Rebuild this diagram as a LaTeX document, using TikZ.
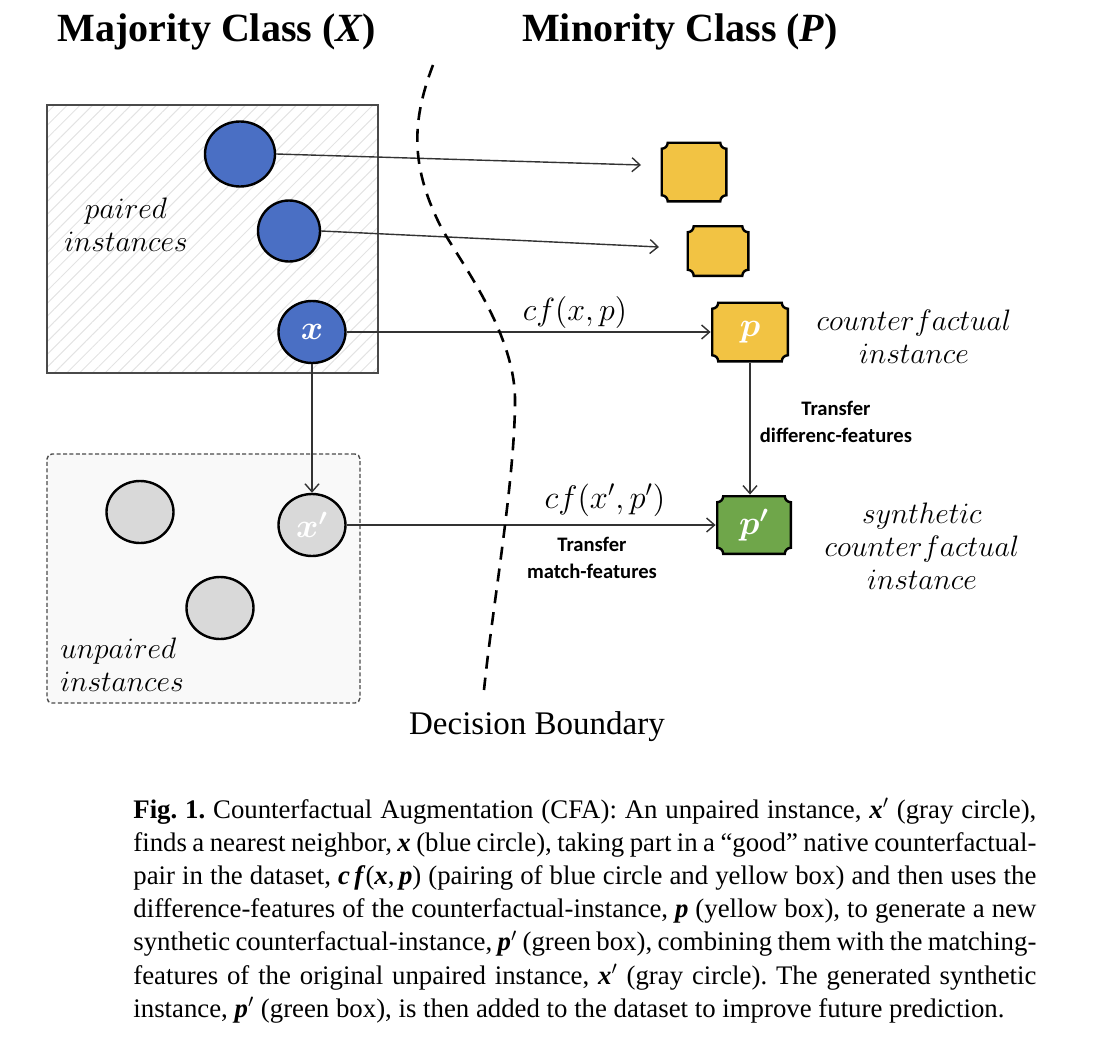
\RequirePackage{fix-cm}
\documentclass[tikz,border=0pt]{standalone}
\usepackage{amsmath}
\usepackage{fontspec}
\setmainfont{Liberation Serif}
\newfontfamily\calib{Carlito}
\usetikzlibrary{arrows.meta,patterns.meta,shapes.geometric,calc}
\definecolor{blueC}{HTML}{4A6FC4}
\definecolor{yellowC}{HTML}{F2C343}
\definecolor{greenC}{HTML}{6FA64A}
\definecolor{grayC}{HTML}{D9D9D9}
\definecolor{lineC}{HTML}{333333}
\definecolor{boxC}{HTML}{4A4A4A}
\newlength\plq \setlength\plq{3pt}
\newlength\hlw \setlength\hlw{0.6pt}
\tikzset{
  plaque/.style={rectangle, inner sep=0pt, path picture={
    \draw[line width=1.2pt, fill=#1]
      ([xshift=\plq+\hlw, yshift=\hlw]path picture bounding box.south west)
      -- ([xshift=-\plq-\hlw, yshift=\hlw]path picture bounding box.south east)
      arc[start angle=180, end angle=90, radius=\plq]
      -- ([xshift=-\hlw, yshift=-\plq-\hlw]path picture bounding box.north east)
      arc[start angle=270, end angle=180, radius=\plq]
      -- ([xshift=\plq+\hlw, yshift=-\hlw]path picture bounding box.north west)
      arc[start angle=0, end angle=-90, radius=\plq]
      -- ([xshift=\hlw, yshift=\plq+\hlw]path picture bounding box.south west)
      arc[start angle=90, end angle=0, radius=\plq]
      -- cycle;
  }},
  dot/.style={ellipse, draw=black, line width=1.2pt, fill=#1, inner sep=0pt},
  arr/.style={draw=lineC, line width=0.7pt, -{Straight Barb[length=4pt,width=7pt]}},
  boundary/.style={draw=black, line width=1.3pt, dash pattern=on 6.5pt off 4.5pt},
  mlabel/.style={font=\fontsize{14.8}{16.5}\selectfont, inner sep=0pt},
  inlabel/.style={text=white, font=\fontsize{17}{19}\selectfont},
  tlabel/.style={font=\calib\bfseries\fontsize{10.3}{13.3}\selectfont, align=center, inner sep=0pt},
}
\begin{document}
\begin{tikzpicture}[x=0.5pt, y=-0.5pt]
\useasboundingbox (0,0) rectangle (1102,1038);

% titles
\node[font=\fontsize{20}{24}\selectfont\bfseries] (t1) at (217,32) {Majority Class (\textit{X})};
\node[font=\fontsize{20}{24}\selectfont\bfseries] (t2) at (680,32) {Minority Class (\textit{P})};

% boxes
\node[draw=boxC, line width=0.75pt, pattern={Lines[angle=45,distance=4.5pt,line width=0.5pt]}, pattern color=gray!22,
      minimum width=165.5pt, minimum height=134pt, inner sep=0pt] (pairbox) at (212.5,239) {};
\node[draw=boxC, line width=0.7pt, dash pattern=on 2pt off 1.2pt, rounded corners=2.5pt, fill=gray!5,
      minimum width=156.5pt, minimum height=124.5pt, inner sep=0pt] (unbox) at (203.5,578.5) {};

% circles
\node[dot=blueC, minimum width=35pt, minimum height=32.5pt] (c1) at (240,154) {};
\node[dot=blueC, minimum width=31pt, minimum height=30.5pt] (c2) at (289,231) {};
\node[dot=blueC, minimum width=33.5pt, minimum height=31pt, inlabel] (x) at (312,332) {$\boldsymbol{x}$};
\node[dot=grayC, minimum width=33.5pt, minimum height=31pt] (g1) at (140,512) {};
\node[dot=grayC, minimum width=33.5pt, minimum height=31pt, inlabel] (xp) at (312,525) {$\boldsymbol{x'}$};
\node[dot=grayC, minimum width=33.5pt, minimum height=31pt] (g3) at (220,608) {};

% plaques
\node[plaque=yellowC, minimum width=33.5pt, minimum height=30.5pt] (y1) at (694,172) {};
\node[plaque=yellowC, minimum width=31.5pt, minimum height=26pt] (y2) at (718,251) {};
\node[plaque=yellowC, minimum width=39pt, minimum height=30.5pt, inlabel] (p) at (750,332) {$\boldsymbol{p}$};
\node[plaque=greenC, minimum width=38pt, minimum height=30pt, inlabel] (pp) at (754,525) {$\boldsymbol{p'}$};

% connectors
\coordinate (e1) at (641,165);
\coordinate (e2) at (659,247);
\draw[arr] (c1.east) -- (e1);
\draw[arr] (c2.east) -- (e2);
\draw[arr] (x.east) -- (p.west);
\draw[arr] (x.south) -- (xp.north);
\draw[arr] (xp.east) -- (xp.east -| pp.west);
\draw[arr] (p.south) -- (p.south |- pp.north);

% decision boundary
\draw[boundary] (433,65) .. controls (412,120) and (410,165) .. (440,225)
  .. controls (455,255) and (515,330) .. (515,400)
  .. controls (515,480) and (492,610) .. (484,690);
\node[font=\fontsize{16.5}{19}\selectfont] (db) at (537,727) {Decision Boundary};

% labels
\node[mlabel, align=center] (lpair) at (126,225) {$paired$\\[0pt]$instances$};
\node[mlabel, align=left, anchor=west] (lunpair) at (60,665) {$unpaired$\\[0pt]$instances$};
\node[mlabel, align=center] (lcf) at (914,337) {$counterfactual$\\[0pt]$instance$};
\node[mlabel, align=center] (lsyn) at (922,546) {$synthetic$\\[0pt]$counterfactual$\\[0pt]$instance$};
\node[font=\fontsize{16}{18}\selectfont] (cf1) at (575,312) {$cf(x,p)$};
\node[font=\fontsize{16.3}{18}\selectfont] (cf2) at (605,500) {$cf(x',p')$};
\node[tlabel] (tdf) at (836,422) {Transfer\\differenc-features};
\node[tlabel] (tmf) at (592,558) {Transfer\\match-features};

% caption
\node[anchor=base west, text width=451.5pt, align=justify, inner sep=0pt,
      font=\frenchspacing\fontsize{13.4}{16.6}\selectfont] (cap) at (133,818) {%
\textbf{Fig. 1.} Counterfactual Augmentation (CFA): An unpaired instance, \textbf{\textit{x}}$'$ (gray circle),\linebreak
finds a nearest neighbor, \textbf{\textit{x}} (blue circle), taking part in a “good” native counterfactual-\linebreak
pair in the dataset, \textbf{\textit{c\,f}}(\textbf{\textit{x}},\,\textbf{\textit{p}}) (pairing of blue circle and yellow box) and then uses the\linebreak
difference-features of the counterfactual-instance, \textbf{\textit{p}} (yellow box), to generate a new\linebreak
synthetic counterfactual-instance, \textbf{\textit{p}}$'$ (green box), combining them with the matching-\linebreak
features of the original unpaired instance, \textbf{\textit{x}}$'$ (gray circle). The generated synthetic\linebreak
instance, \textbf{\textit{p}}$'$ (green box), is then added to the dataset to improve future prediction.};
\end{tikzpicture}
\end{document}
